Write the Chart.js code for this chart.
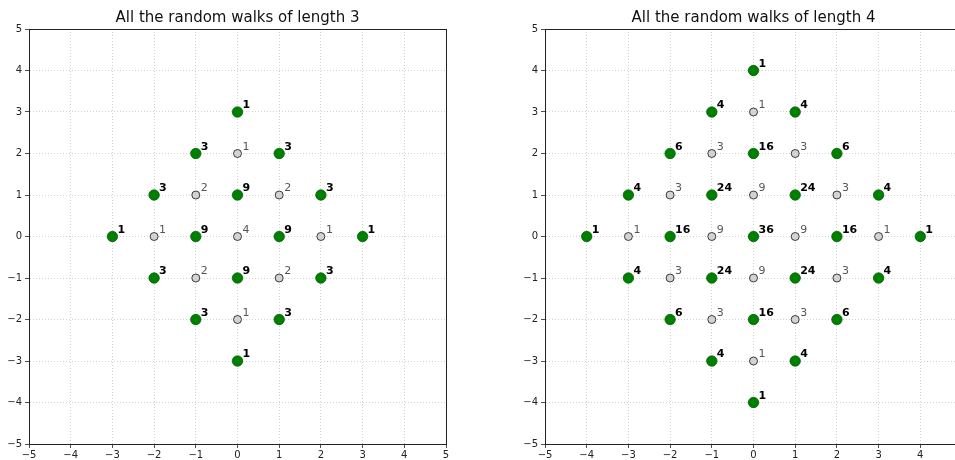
<!DOCTYPE html>
<html>
<head>
<meta charset="utf-8">
<script src="https://cdn.jsdelivr.net/npm/chart.js@4/dist/chart.umd.min.js"></script>
<style>
  html, body { margin: 0; padding: 0; background: #fff; overflow: hidden; }
  body { width: 955px; height: 460px; position: relative; }
  .clip { position: absolute; top: 0; height: 460px; overflow: hidden; }
  #clip1 { left: 0; width: 480px; }
  #clip2 { left: 516px; width: 439px; }
</style>
</head>
<body>
<div class="clip" id="clip1"><canvas id="walk3" width="480" height="460"></canvas></div>
<div class="clip" id="clip2"><canvas id="walk4" width="480" height="460"></canvas></div>
<script>
// [x, y, number of walks ending there]
const walk3Green = [
  [0, 3, 1], [-1, 2, 3], [1, 2, 3], [-2, 1, 3], [0, 1, 9], [2, 1, 3],
  [-3, 0, 1], [-1, 0, 9], [1, 0, 9], [3, 0, 1],
  [-2, -1, 3], [0, -1, 9], [2, -1, 3], [-1, -2, 3], [1, -2, 3], [0, -3, 1]
];
const walk3Gray = [
  [0, 2, 1], [-1, 1, 2], [1, 1, 2], [-2, 0, 1], [0, 0, 4], [2, 0, 1],
  [-1, -1, 2], [1, -1, 2], [0, -2, 1]
];
const walk4Green = [
  [0, 4, 1], [-1, 3, 4], [1, 3, 4], [-2, 2, 6], [0, 2, 16], [2, 2, 6],
  [-3, 1, 4], [-1, 1, 24], [1, 1, 24], [3, 1, 4],
  [-4, 0, 1], [-2, 0, 16], [0, 0, 36], [2, 0, 16], [4, 0, 1],
  [-3, -1, 4], [-1, -1, 24], [1, -1, 24], [3, -1, 4],
  [-2, -2, 6], [0, -2, 16], [2, -2, 6], [-1, -3, 4], [1, -3, 4], [0, -4, 1]
];
const walk4Gray = [
  [0, 3, 1], [-1, 2, 3], [1, 2, 3], [-2, 1, 3], [0, 1, 9], [2, 1, 3],
  [-3, 0, 1], [-1, 0, 9], [1, 0, 9], [3, 0, 1],
  [-2, -1, 3], [0, -1, 9], [2, -1, 3], [-1, -2, 3], [1, -2, 3], [0, -3, 1]
];
const axisMin = -5;
const axisMax = 5;

const FONT = "'DejaVu Sans', sans-serif";

// count labels next to each point, frame and title
const decorPlugin = {
  id: "decor",
  afterDatasetsDraw(chart) {
    const ctx = chart.ctx;
    const area = chart.chartArea;
    ctx.save();
    chart.data.datasets.forEach((ds, i) => {
      const meta = chart.getDatasetMeta(i);
      ctx.font = (ds.bold ? "bold " : "") + "11px " + FONT;
      ctx.fillStyle = ds.textColor;
      ctx.textAlign = "left";
      ctx.textBaseline = "alphabetic";
      meta.data.forEach((pt, j) => {
        ctx.fillText(String(ds.counts[j]), pt.x + 5, pt.y - 4);
      });
    });
    ctx.strokeStyle = "#222";
    ctx.lineWidth = 1;
    ctx.strokeRect(area.left + 0.5, area.top + 0.5, area.right - area.left, area.bottom - area.top);
    ctx.fillStyle = "#111";
    ctx.font = "15px " + FONT;
    ctx.textAlign = "center";
    ctx.textBaseline = "middle";
    ctx.fillText(chart.options.titleText, (area.left + area.right) / 2, 18);
    ctx.restore();
  },
};

function makeChart(id, title, green, gray) {
  const axis = (isX) => ({
    type: "linear",
    min: axisMin,
    max: axisMax,
    afterFit(scale) {
      if (isX) scale.height = 16;
      else scale.width = 29;
    },
    ticks: {
      stepSize: 1,
      color: "#222",
      font: { family: FONT, size: 10 },
      padding: isX ? 1 : 3,
      maxRotation: 0,
      autoSkip: false,
      callback: (v) => String(v).replace("-", "\u2212"),
    },
    grid: {
      color: "#c8c8c8",
      lineWidth: 0.8,
      tickColor: "#222",
      tickLength: 4,
      tickBorderDash: [],
    },
    border: { display: true, color: "#222", width: 1, dash: [1, 2] },
  });

  return new Chart(document.getElementById(id), {
    type: "scatter",
    data: {
      datasets: [
        {
          data: green.map((p) => ({ x: p[0], y: p[1] })),
          counts: green.map((p) => p[2]),
          bold: true,
          textColor: "#000",
          pointRadius: 5.2,
          pointBackgroundColor: "#008000",
          pointBorderColor: "#006000",
          pointBorderWidth: 0.8,
        },
        {
          data: gray.map((p) => ({ x: p[0], y: p[1] })),
          counts: gray.map((p) => p[2]),
          bold: false,
          textColor: "#555",
          pointRadius: 4,
          pointBackgroundColor: "#d3d3d3",
          pointBorderColor: "#111",
          pointBorderWidth: 0.8,
        },
      ],
    },
    options: {
      titleText: title,
      responsive: false,
      animation: false,
      layout: { padding: { top: 29, right: 34, left: 0, bottom: 0 } },
      plugins: { legend: { display: false }, tooltip: { enabled: false } },
      scales: { x: axis(true), y: axis(false) },
    },
    plugins: [decorPlugin],
  });
}

makeChart("walk3", "All the random walks of length 3", walk3Green, walk3Gray);
makeChart("walk4", "All the random walks of length 4", walk4Green, walk4Gray);
</script>
</body>
</html>
